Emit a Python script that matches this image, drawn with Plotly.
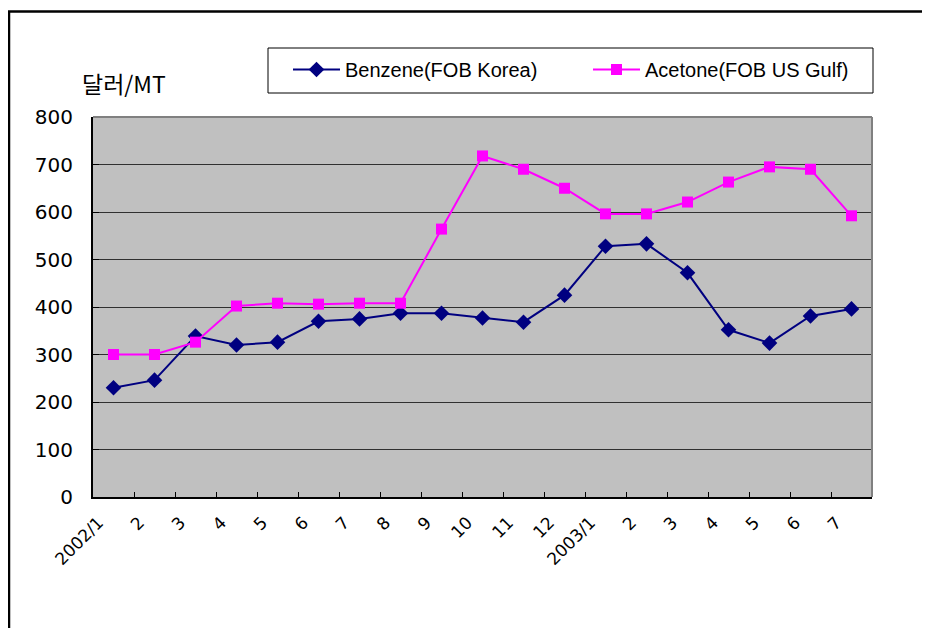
import plotly.graph_objects as go

months = ["2002/1", "2", "3", "4", "5", "6", "7", "8", "9", "10", "11", "12",
          "2003/1", "2", "3", "4", "5", "6", "7"]
benzene = [230, 246, 339, 320, 326, 370, 375, 387, 387, 377, 368, 425,
           528, 533, 472, 352, 324, 381, 396]
acetone = [300, 300, 326, 402, 408, 406, 408, 408, 564, 718, 690, 650,
           596, 596, 621, 663, 695, 690, 592]
y_ticks = [0, 100, 200, 300, 400, 500, 600, 700, 800]

idx = list(range(len(months)))

OFF = 8  # page body margin
W, H = 930, 628
L, T = 93 - OFF, 117 - OFF
R = W - (872 - OFF)
B = H - (497 - OFF)
pw, ph = W - L - R, H - T - B

def px(x):
    return (x - OFF - L) / pw

def py(y):
    return (H - B - (y - OFF)) / ph

FONT = "Liberation Sans"
TICKFONT = "DejaVu Sans"

fig = go.Figure()
fig.add_trace(go.Scatter(
    x=idx, y=benzene, name="Benzene(FOB Korea)", mode="lines+markers",
    line=dict(color="#000080", width=2),
    marker=dict(symbol="diamond", size=12, color="#000080"),
))
fig.add_trace(go.Scatter(
    x=idx, y=acetone, name="Acetone(FOB US Gulf)", mode="lines+markers",
    line=dict(color="#FF00FF", width=2),
    marker=dict(symbol="square", size=11, color="#FF00FF"),
))

fig.update_layout(
    width=W, height=H,
    margin=dict(l=L, r=R, t=T, b=B),
    paper_bgcolor="white",
    plot_bgcolor="#C0C0C0",
    font=dict(family=FONT, color="black"),
    showlegend=True,
    legend=dict(
        orientation="h", x=px(288), y=py(50), xanchor="left", yanchor="top",
        borderwidth=0, bgcolor="rgba(0,0,0,0)",
        font=dict(size=20, family=FONT), entrywidth=238,
        itemwidth=47,
    ),
    xaxis=dict(
        type="linear", range=[-0.5, len(months) - 0.5],
        tickmode="array", tickvals=idx, ticktext=months,
        tickangle=-45, showgrid=False, zeroline=False,
        showline=True, linecolor="black", linewidth=2, mirror=False,
        ticks="", tickfont=dict(size=17, family=TICKFONT),
        ticklabelstandoff=7, ticklabelshift=-15,
    ),
    xaxis2=dict(
        overlaying="x", range=[-0.5, len(months) - 0.5],
        tickmode="array", tickvals=[i + 0.5 for i in idx[:-1]],
        ticks="inside", ticklen=5, tickcolor="black", tickwidth=1,
        showticklabels=False, showgrid=False, zeroline=False,
    ),
    yaxis=dict(
        range=[0, 800], tickmode="array", tickvals=y_ticks,
        showgrid=True, gridcolor="#303030", gridwidth=1,
        zeroline=False, showline=True, linecolor="black", linewidth=2,
        ticks="inside", ticklen=6, tickcolor="black",
        tickfont=dict(size=20, family=TICKFONT), ticklabelstandoff=14,
    ),
    shapes=[
        dict(type="rect", xref="paper", yref="paper",
             x0=px(268), x1=px(873), y0=py(48), y1=py(93),
             line=dict(color="black", width=1), fillcolor="white",
             layer="below"),
        dict(type="rect", xref="paper", yref="paper",
             x0=px(9), x1=px(945), y0=py(11.5), y1=py(645),
             line=dict(color="black", width=2.5), layer="above"),
        dict(type="line", xref="paper", yref="paper",
             x0=0, x1=1, y0=1, y1=1,
             line=dict(color="#808080", width=2), layer="above"),
        dict(type="line", xref="paper", yref="paper",
             x0=1, x1=1, y0=0, y1=1,
             line=dict(color="#808080", width=2), layer="above"),
    ],
    annotations=[
        dict(text="달러/MT", xref="paper", yref="paper", x=px(80), y=py(83),
             xanchor="left", yanchor="middle", showarrow=False,
             font=dict(size=23, family="Noto Sans CJK KR")),
    ],
)
fig.add_trace(go.Scatter(x=[None], y=[None], xaxis="x2", showlegend=False,
                         hoverinfo="skip"))

fig.write_html("out.html")
